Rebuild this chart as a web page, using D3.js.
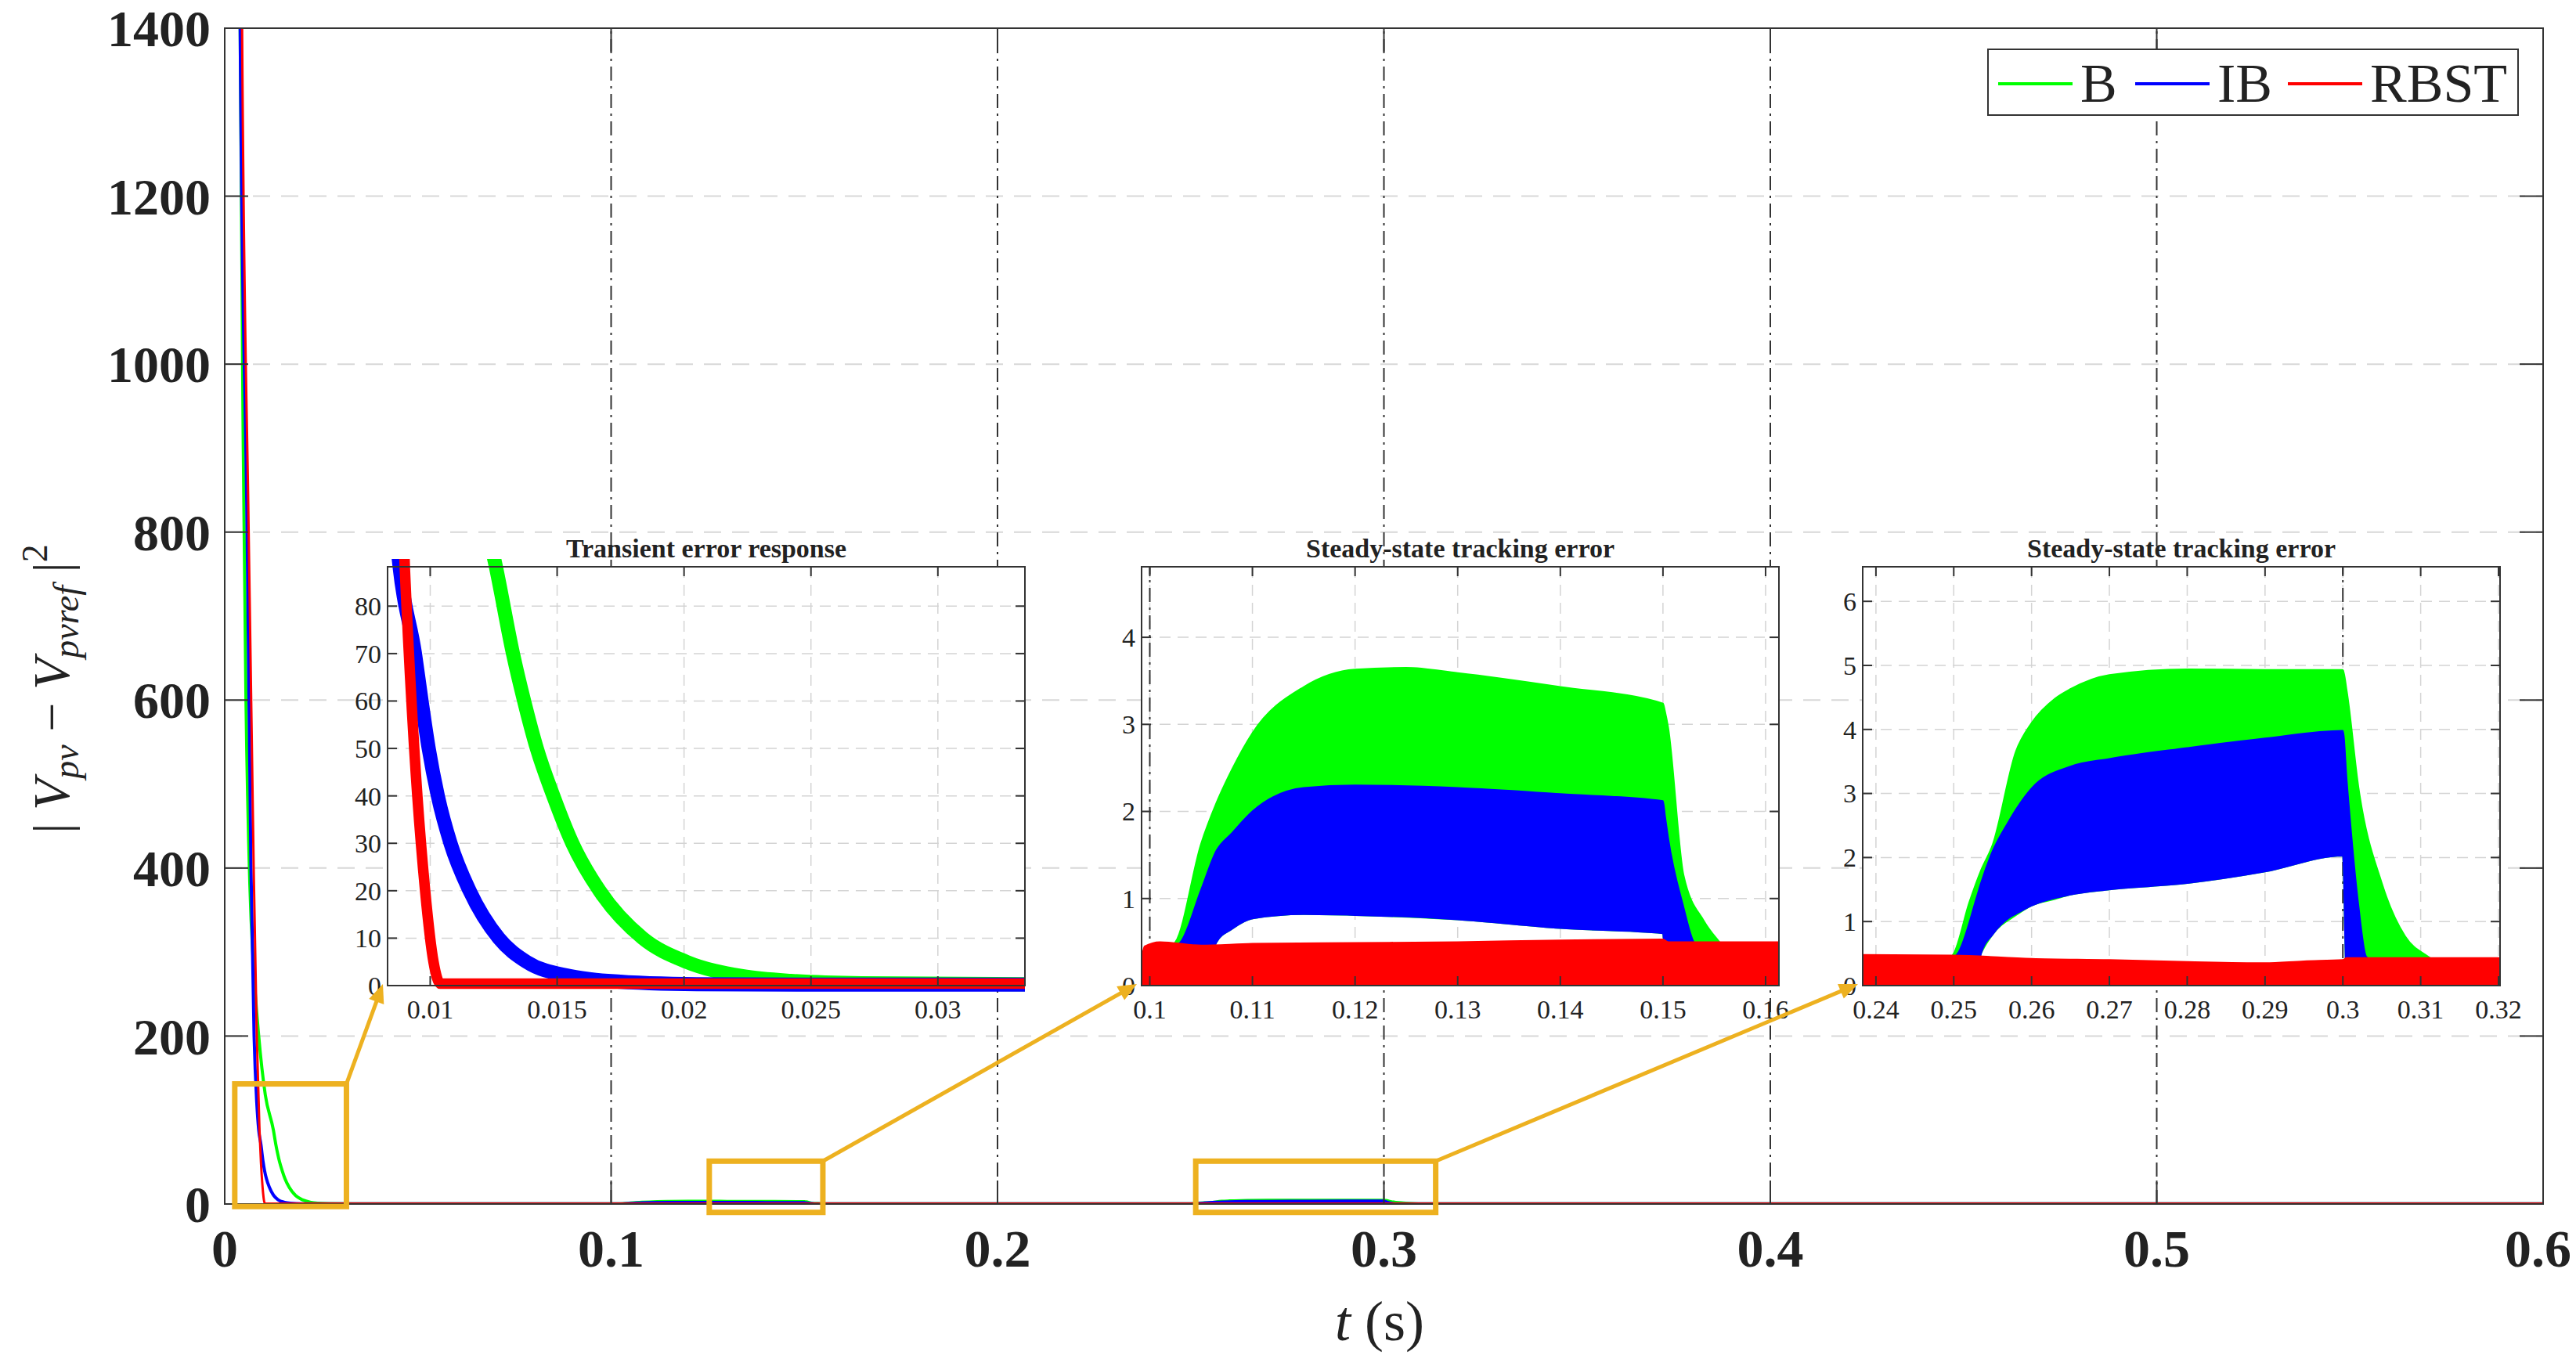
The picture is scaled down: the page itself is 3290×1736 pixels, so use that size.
<!DOCTYPE html>
<html>
<head>
<meta charset="utf-8">
<script src="https://cdn.jsdelivr.net/npm/d3@7"></script>
<style>
  body { margin: 0; background: #fff; }
  svg text { font-family: "Liberation Serif", "Times New Roman", serif; fill: #222; }
</style>
</head>
<body>
<div id="chart"></div>
<script>
// series
const seriesNames = ["B", "IB", "RBST"];
const seriesColors = ["#00ff00", "#0000ff", "#ff0000"];

// transient response, [t, |e|^2]
const transientB = [[0.0030, 2600], [0.0040, 1400], [0.0048, 900], [0.0055, 600], [0.0065, 380], [0.0075, 280],
  [0.0088, 200], [0.0105, 130], [0.0126, 88], [0.01326, 70], [0.0137, 60], [0.0142, 50], [0.01485, 40],
  [0.0156, 30], [0.01667, 20], [0.01837, 10], [0.0201, 5], [0.0223, 2], [0.0242, 1], [0.027, 0.5],
  [0.0334, 0.3], [0.1, 0.3], [0.6, 0.3]];
const transientIB = [[0.0030, 2600], [0.0040, 1400], [0.0058, 800], [0.0068, 400], [0.0076, 200],
  [0.0083, 120], [0.0088, 88], [0.0094, 70], [0.00966, 60], [0.00994, 50], [0.0103, 40], [0.0108, 30],
  [0.01155, 20], [0.0127, 10], [0.0138, 5], [0.0155, 2], [0.017, 1], [0.0205, 0.3], [0.025, 0.2],
  [0.1, 0.2], [0.6, 0.2]];
const transientRBST = [[0.0032, 2600], [0.0045, 1400], [0.0062, 800], [0.0075, 400], [0.0083, 200],
  [0.0090, 88], [0.00937, 50], [0.0098, 20], [0.01013, 5], [0.0104, 0.4], [0.1, 0.4], [0.6, 0.4]];

// ripple envelopes, [t, low, high]
const bandB1 = [[0.1000, 0, 0.3], [0.1025, 0, 0.5], [0.105, 0, 1.63], [0.1065, 0.5, 2.1], [0.108, 0.65, 2.48],
  [0.11, 0.77, 2.9], [0.115, 0.82, 3.43], [0.12, 0.81, 3.63], [0.125, 0.79, 3.65], [0.13, 0.76, 3.59],
  [0.14, 0.66, 3.43], [0.15, 0.6, 3.24], [0.1502, 0.3, 3.15], [0.1505, 0, 2.97], [0.152, 0, 1.27],
  [0.154, 0, 0.74], [0.1555, 0, 0.5], [0.157, 0, 0.3]];
const bandIB1 = [[0.1000, 0, 0.3], [0.103, 0, 0.5], [0.105, 0, 1.1], [0.1065, 0.5, 1.55], [0.108, 0.65, 1.75],
  [0.11, 0.77, 2.0], [0.115, 0.82, 2.27], [0.12, 0.81, 2.3], [0.13, 0.76, 2.27], [0.14, 0.66, 2.2],
  [0.15, 0.6, 2.12], [0.1502, 0.3, 1.95], [0.1505, 0, 1.7], [0.152, 0, 0.9], [0.153, 0, 0.5], [0.155, 0, 0.3]];
const bandRBST1 = [[0.0992, 0, 0.3], [0.0995, 0, 0.45], [0.101, 0, 0.5], [0.105, 0, 0.46], [0.11, 0, 0.48],
  [0.12, 0, 0.49], [0.13, 0, 0.5], [0.14, 0, 0.52], [0.15, 0, 0.53], [0.1505, 0, 0.5], [0.16, 0, 0.5],
  [0.1613, 0, 0.5]];
const bandB2 = [[0.248, 0, 0.3], [0.25, 0, 0.5], [0.252, 0, 1.3], [0.2535, 0.5, 1.8], [0.255, 0.8, 2.2],
  [0.258, 1.1, 3.66], [0.26, 1.25, 4.1], [0.263, 1.35, 4.48], [0.265, 1.42, 4.63], [0.27, 1.5, 4.85],
  [0.28, 1.6, 4.94], [0.29, 1.78, 4.93], [0.30, 2.03, 4.93], [0.3005, 0, 4.6], [0.302, 0, 3.1],
  [0.305, 0, 1.6], [0.308, 0, 0.77], [0.311, 0, 0.45], [0.313, 0, 0.3]];
const bandIB2 = [[0.248, 0, 0.3], [0.2505, 0, 0.5], [0.253, 0, 1.4], [0.2535, 0.5, 1.6], [0.255, 0.8, 2.1],
  [0.257, 1.05, 2.55], [0.258, 1.12, 2.75], [0.26, 1.25, 3.08], [0.265, 1.42, 3.42], [0.27, 1.5, 3.54],
  [0.28, 1.6, 3.71], [0.29, 1.78, 3.86], [0.30, 2.03, 3.98], [0.3005, 0, 3.2], [0.302, 0, 1.25],
  [0.303, 0, 0.45], [0.305, 0, 0.3]];
const bandRBST2 = [[0.2383, 0, 0.48], [0.25, 0, 0.47], [0.26, 0, 0.42], [0.27, 0, 0.4], [0.28, 0, 0.37],
  [0.29, 0, 0.35], [0.295, 0, 0.38], [0.30, 0, 0.40], [0.3005, 0, 0.43], [0.31, 0, 0.43], [0.3202, 0, 0.43]];

// event markers (dash-dot lines)
const eventTimes = [0.1, 0.2, 0.3, 0.4, 0.5];

// main axes ticks
const mainXTicks = [0, 0.1, 0.2, 0.3, 0.4, 0.5, 0.6];
const mainYTicks = [0, 200, 400, 600, 800, 1000, 1200, 1400];

// zoom boxes on main plot, [t0, t1, y0, y1]
const zoomBoxes = [[0.0026, 0.0315, -3, 143], [0.1254, 0.1548, -10, 51], [0.2513, 0.3134, -10, 51]];

// insets
const insetTitles = ["Transient error response", "Steady-state tracking error", "Steady-state tracking error"];
const insetXDomains = [[0.00832, 0.03343], [0.0992, 0.1613], [0.2383, 0.3202]];
const insetYDomains = [[0, 88.3], [0, 4.81], [0, 6.54]];
const insetXTicks = [[0.01, 0.015, 0.02, 0.025, 0.03],
  [0.1, 0.11, 0.12, 0.13, 0.14, 0.15, 0.16],
  [0.24, 0.25, 0.26, 0.27, 0.28, 0.29, 0.3, 0.31, 0.32]];
const insetYTicks = [[0, 10, 20, 30, 40, 50, 60, 70, 80], [0, 1, 2, 3, 4], [0, 1, 2, 3, 4, 5, 6]];

const W = 3290, H = 1736;
const margin = { left: 287, right: 42, top: 36, bottom: 198 };
const iw = W - margin.left - margin.right, ih = H - margin.top - margin.bottom;

const svg = d3.select("#chart").append("svg").attr("width", W).attr("height", H);
const defs = svg.append("defs");
const transients = [transientB, transientIB, transientRBST];
const bands1 = [bandB1, bandIB1, bandRBST1];
const bands2 = [bandB2, bandIB2, bandRBST2];

// ---------- main axes
const x = d3.scaleLinear().domain([0, 0.6]).range([margin.left, margin.left + iw]);
const y = d3.scaleLinear().domain([0, 1400]).range([margin.top + ih, margin.top]);

defs.append("clipPath").attr("id", "clip-main").append("rect")
  .attr("x", x(0)).attr("y", y(1400)).attr("width", iw).attr("height", ih);

svg.append("g").selectAll("line").data(mainYTicks.slice(1, -1)).join("line")
  .attr("x1", x(0)).attr("x2", x(0.6)).attr("y1", d => y(d)).attr("y2", d => y(d))
  .attr("stroke", "#d8d8d8").attr("stroke-width", 2).attr("stroke-dasharray", "22,14");

function eventLines(g, sx, sy) {
  g.append("g").selectAll("line").data(eventTimes.filter(t => t > sx.domain()[0] && t < sx.domain()[1])).join("line")
    .attr("x1", d => sx(d)).attr("x2", d => sx(d)).attr("y1", sy.range()[0]).attr("y2", sy.range()[1])
    .attr("stroke", "#333").attr("stroke-width", 2).attr("stroke-dasharray", "18,7,3,7");
}
eventLines(svg, x, y);

function drawSeries(g, sx, sy, clipId, lineW, withTransient, withBands) {
  const cg = g.append("g").attr("clip-path", `url(#${clipId})`);
  const line = d3.line().x(d => sx(d[0])).y(d => sy(d[1])).curve(d3.curveMonotoneX);
  const area = d3.area().x(d => sx(d[0])).y0(d => sy(d[1])).y1(d => sy(d[2])).curve(d3.curveMonotoneX);
  seriesNames.forEach((s, i) => {
    if (withTransient) {
      cg.append("path").datum(transients[i]).attr("d", line)
        .attr("fill", "none").attr("stroke", seriesColors[i]).attr("stroke-width", i === 2 ? lineW * 0.75 : lineW)
        .attr("stroke-linejoin", "round");
    }
    if (withBands) {
      [bands1[i], bands2[i]].forEach(b => {
        cg.append("path").datum(b).attr("d", area).attr("fill", seriesColors[i])
          .attr("stroke", seriesColors[i]).attr("stroke-width", Math.min(lineW, 3));
      });
    }
  });
}
drawSeries(svg, x, y, "clip-main", 4, true, true);

// main frame and ticks
svg.append("rect").attr("x", x(0)).attr("y", y(1400)).attr("width", iw).attr("height", ih)
  .attr("fill", "none").attr("stroke", "#333").attr("stroke-width", 2);

const mainTickG = svg.append("g");
mainTickG.selectAll("line.yl").data(mainYTicks).join("line").attr("class", "yl")
  .attr("x1", x(0)).attr("x2", x(0) + 30).attr("y1", d => y(d)).attr("y2", d => y(d)).attr("stroke", "#333").attr("stroke-width", 2);
mainTickG.selectAll("line.yr").data(mainYTicks).join("line").attr("class", "yr")
  .attr("x1", x(0.6)).attr("x2", x(0.6) - 30).attr("y1", d => y(d)).attr("y2", d => y(d)).attr("stroke", "#333").attr("stroke-width", 2);
mainTickG.selectAll("line.xb").data(mainXTicks).join("line").attr("class", "xb")
  .attr("x1", d => x(d)).attr("x2", d => x(d)).attr("y1", y(0)).attr("y2", y(0) - 30).attr("stroke", "#333").attr("stroke-width", 2);
mainTickG.selectAll("line.xt").data(mainXTicks).join("line").attr("class", "xt")
  .attr("x1", d => x(d)).attr("x2", d => x(d)).attr("y1", y(1400)).attr("y2", y(1400) + 30).attr("stroke", "#333").attr("stroke-width", 2);

svg.append("g").selectAll("text").data(mainYTicks).join("text")
  .attr("x", x(0) - 18).attr("y", d => y(d)).attr("dy", "0.35em").attr("text-anchor", "end")
  .attr("font-size", 66).attr("font-weight", "bold").text(d => d);
svg.append("g").selectAll("text").data(mainXTicks).join("text")
  .attr("x", d => d === 0.6 ? W - 6 : x(d)).attr("y", y(0) + 80)
  .attr("text-anchor", d => d === 0.6 ? "end" : "middle")
  .attr("font-size", 68).attr("font-weight", "bold").text(d => d);

// axis labels
const xl = svg.append("text").attr("x", 1762).attr("y", 1712).attr("text-anchor", "middle").attr("font-size", 72);
xl.append("tspan").attr("font-style", "italic").text("t");
xl.append("tspan").text(" (s)");

const yl = svg.append("text").attr("transform", "translate(88,880) rotate(-90)").attr("text-anchor", "middle").attr("font-size", 66);
yl.append("tspan").text("| ");
yl.append("tspan").attr("font-style", "italic").text("V");
yl.append("tspan").attr("font-style", "italic").attr("font-size", 46).attr("dy", 12).text("pv");
yl.append("tspan").attr("dy", -12).text(" − ");
yl.append("tspan").attr("font-style", "italic").text("V");
yl.append("tspan").attr("font-style", "italic").attr("font-size", 46).attr("dy", 12).text("pvref");
yl.append("tspan").attr("dy", -12).text(" |");
yl.append("tspan").attr("font-size", 46).attr("dy", -28).text("2");

// ---------- insets
const insetBoxes = [[495, 724, 814, 535], [1458, 724, 814, 535], [2379, 724, 814, 535]];
const orange = "#edb120";

insetBoxes.forEach((b, k) => {
  const [bx, by, bw, bh] = b;
  const sx = d3.scaleLinear().domain(insetXDomains[k]).range([bx, bx + bw]);
  const sy = d3.scaleLinear().domain(insetYDomains[k]).range([by + bh, by]);
  const g = svg.append("g");
  g.append("rect").attr("x", bx).attr("y", by).attr("width", bw).attr("height", bh).attr("fill", "#fff");
  defs.append("clipPath").attr("id", "clip-in" + k).append("rect")
    .attr("x", bx).attr("y", by - 10).attr("width", bw).attr("height", bh + 20);

  g.append("g").selectAll("line").data(insetYTicks[k].slice(1)).join("line")
    .attr("x1", bx).attr("x2", bx + bw).attr("y1", d => sy(d)).attr("y2", d => sy(d))
    .attr("stroke", "#d4d4d4").attr("stroke-width", 1.5).attr("stroke-dasharray", "14,9");
  g.append("g").selectAll("line").data(insetXTicks[k]).join("line")
    .attr("x1", d => sx(d)).attr("x2", d => sx(d)).attr("y1", by).attr("y2", by + bh)
    .attr("stroke", "#d4d4d4").attr("stroke-width", 1.5).attr("stroke-dasharray", "14,9");
  eventLines(g, sx, sy);

  if (k === 0) drawSeries(g, sx, sy, "clip-in0", 18, true, false);
  else drawSeries(g, sx, sy, "clip-in" + k, 2, false, true);

  g.append("rect").attr("x", bx).attr("y", by).attr("width", bw).attr("height", bh)
    .attr("fill", "none").attr("stroke", "#333").attr("stroke-width", 2);
  g.selectAll("line.tx").data(insetXTicks[k]).join("line").attr("class", "tx")
    .attr("x1", d => sx(d)).attr("x2", d => sx(d)).attr("y1", by).attr("y2", by + 12).attr("stroke", "#333").attr("stroke-width", 2);
  g.selectAll("line.bx").data(insetXTicks[k]).join("line").attr("class", "bx")
    .attr("x1", d => sx(d)).attr("x2", d => sx(d)).attr("y1", by + bh).attr("y2", by + bh - 12).attr("stroke", "#333").attr("stroke-width", 2);
  g.selectAll("line.ly").data(insetYTicks[k]).join("line").attr("class", "ly")
    .attr("x1", bx).attr("x2", bx + 12).attr("y1", d => sy(d)).attr("y2", d => sy(d)).attr("stroke", "#333").attr("stroke-width", 2);
  g.selectAll("line.ry").data(insetYTicks[k]).join("line").attr("class", "ry")
    .attr("x1", bx + bw).attr("x2", bx + bw - 12).attr("y1", d => sy(d)).attr("y2", d => sy(d)).attr("stroke", "#333").attr("stroke-width", 2);

  g.selectAll("text.xt").data(insetXTicks[k]).join("text").attr("class", "xt")
    .attr("x", d => sx(d)).attr("y", by + bh + 42).attr("text-anchor", "middle").attr("font-size", 34).text(d => d);
  g.selectAll("text.yt").data(insetYTicks[k]).join("text").attr("class", "yt")
    .attr("x", bx - 8).attr("y", d => sy(d)).attr("dy", "0.35em").attr("text-anchor", "end").attr("font-size", 34).text(d => d);
  g.append("text").attr("x", bx + bw / 2).attr("y", by - 12).attr("text-anchor", "middle")
    .attr("font-size", 34).attr("font-weight", "bold").text(insetTitles[k]);

  // zoom box and arrow
  const z = zoomBoxes[k];
  svg.append("rect").attr("x", x(z[0])).attr("y", y(z[3])).attr("width", x(z[1]) - x(z[0])).attr("height", y(z[2]) - y(z[3]))
    .attr("fill", "none").attr("stroke", orange).attr("stroke-width", 7);
  const x1 = x(z[1]), y1 = y(z[3]), x2 = bx - 6, y2 = by + bh - 2;
  const ang = Math.atan2(y2 - y1, x2 - x1);
  svg.append("line").attr("x1", x1).attr("y1", y1).attr("x2", x2 - 14 * Math.cos(ang)).attr("y2", y2 - 14 * Math.sin(ang))
    .attr("stroke", orange).attr("stroke-width", 5);
  const hl = 26, hw = 0.4;
  svg.append("path").attr("fill", orange)
    .attr("d", `M${x2},${y2}L${x2 - hl * Math.cos(ang - hw)},${y2 - hl * Math.sin(ang - hw)}L${x2 - hl * Math.cos(ang + hw)},${y2 - hl * Math.sin(ang + hw)}Z`);
});

// ---------- legend
const leg = svg.append("g");
leg.append("rect").attr("x", 2539).attr("y", 63).attr("width", 677).attr("height", 84)
  .attr("fill", "#fff").attr("stroke", "#333").attr("stroke-width", 2);
const legX = [2552, 2727, 2922];
seriesNames.forEach((s, i) => {
  leg.append("line").attr("x1", legX[i]).attr("x2", legX[i] + 95).attr("y1", 107).attr("y2", 107)
    .attr("stroke", seriesColors[i]).attr("stroke-width", 4);
  leg.append("text").attr("x", legX[i] + 105).attr("y", 130).attr("font-size", 70).text(s);
});
</script>
</body>
</html>
